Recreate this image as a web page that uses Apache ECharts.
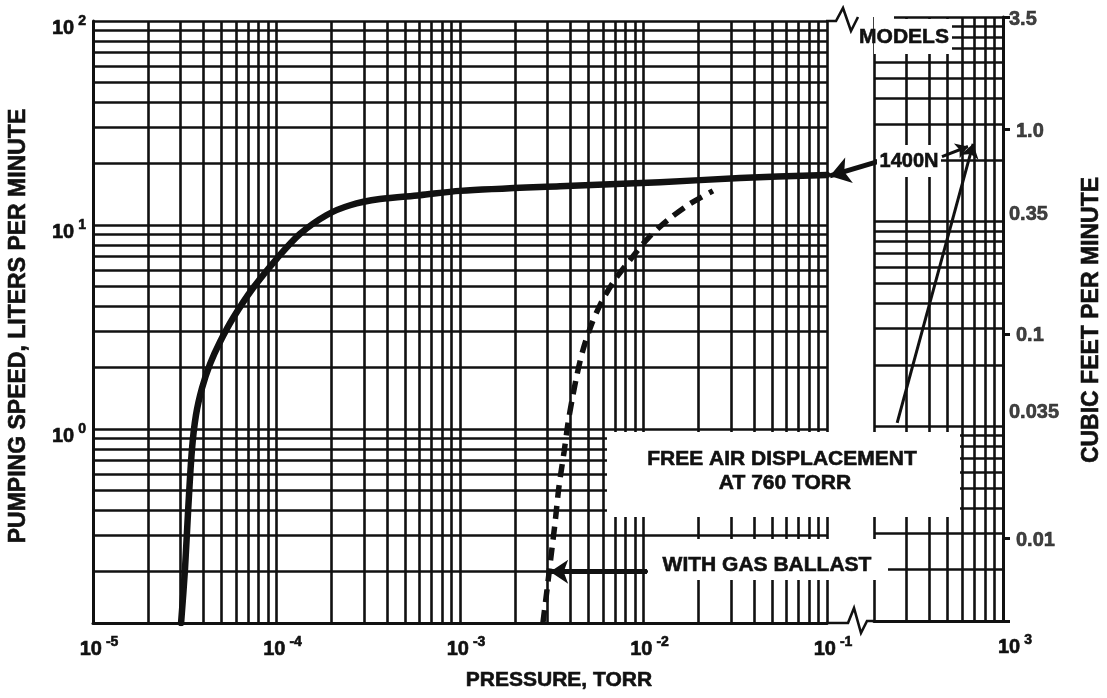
<!DOCTYPE html>
<html><head><meta charset="utf-8">
<script src="https://cdn.jsdelivr.net/npm/echarts@6/dist/echarts.min.js"></script>
<style>html,body{margin:0;padding:0;background:#fff}#c{width:1107px;height:698px}</style>
</head><body><div id="c"></div>
<script>
// ---------------- data ----------------
const pressureRange = [1e-5, 1e-1];        // torr (main panel)
const displacementRange = [200, 1000];     // right panel (760 torr) x-range
const speedRange = [0.112, 100];           // liters per minute
const LPM_PER_CFM = 28.317;

// 1400N pumping speed, no gas ballast (solid)
const solidPressure = [3.02e-5, 3.17e-5, 3.30e-5, 3.46e-5, 3.64e-5, 3.93e-5, 4.34e-5, 4.92e-5, 5.80e-5, 7.45e-5, 1.01e-4, 1.34e-4, 1.88e-4, 2.52e-4, 3.66e-4, 6.05e-4, 1.0e-3, 3.51e-3, 1.23e-2, 3.36e-2, 0.1];
const solidSpeed    = [0.112, 0.204, 0.401, 0.789, 1.17, 1.59, 2.08, 2.67, 3.50, 4.91, 6.89, 9.04, 11.2, 12.5, 13.4, 14.0, 14.7, 15.5, 16.2, 17.0, 17.6];

// with gas ballast (dashed)
const ballastPressure = [2.83e-3, 2.98e-3, 3.13e-3, 3.30e-3, 3.46e-3, 3.69e-3, 3.88e-3, 4.08e-3, 4.35e-3, 4.68e-3, 5.17e-3, 5.87e-3, 6.90e-3, 8.44e-3, 1.06e-2, 1.36e-2, 1.79e-2, 2.39e-2];
const ballastSpeed    = [0.112, 0.163, 0.236, 0.350, 0.520, 0.771, 1.07, 1.39, 1.86, 2.44, 3.20, 4.15, 5.31, 6.73, 8.63, 10.6, 12.7, 14.7];

// free air displacement line (right panel)
const freeAirX = [267, 689];
const freeAirSpeed = [1.04, 24.0];

// annotation anchors (data coordinates)
const modelArrowFrom = [0.187, 20.4], modelArrowTo = [0.1037, 17.4];
const modelLeaderFrom = [467, 20.8], modelLeaderTo = [646, 23.3];
const ballastArrowFrom = [1.045e-2, 0.2], ballastArrowTo = [3.1e-3, 0.2];

// right axis (cubic feet per minute) labels
const rightTickValues = [3.5, 1.0, 0.35, 0.1, 0.035, 0.01];
const rightTickLabels = ['3.5', '1.0', '0.35', '0.1', '0.035', '0.01'];

const texts = {
  xTitle: 'PRESSURE, TORR',
  yTitle: 'PUMPING SPEED, LITERS PER MINUTE',
  y2Title: 'CUBIC FEET PER MINUTE',
  models: 'MODELS',
  model: '1400N',
  freeAir1: 'FREE AIR DISPLACEMENT',
  freeAir2: 'AT 760 TORR',
  ballast: 'WITH GAS BALLAST'
};

// ---------------- helpers ----------------
const FONT = '"Liberation Sans", Arial, Helvetica, sans-serif';
const INK = '#111';
const zip = (a, b) => a.map((v, i) => [v, b[i]]);
function logPaper(lo, hi) {
  const out = [];
  for (let e = Math.floor(Math.log10(lo)); e <= Math.ceil(Math.log10(hi)); e++) {
    for (let m = 1; m <= 9; m++) {
      const v = +(m * Math.pow(10, e)).toPrecision(6);
      if (v >= lo * 0.9999 && v <= hi * 1.0001) out.push(v);
    }
  }
  return out;
}
function supLabel(v) {
  const e = Math.log10(v), r = Math.round(e);
  if (Math.abs(e - r) > 1e-6) return '';
  return '{b|10}{s|' + r + '}';
}
const heavy = {textBorderColor: INK, textBorderWidth: 0.6};
const supRich = {
  b: Object.assign({fontFamily: FONT, fontWeight: 'bold', fontSize: 20, color: INK, lineHeight: 22, verticalAlign: 'bottom'}, heavy),
  s: Object.assign({fontFamily: FONT, fontWeight: 'bold', fontSize: 14, color: INK, lineHeight: 14, padding: [0, 0, 10, 4], verticalAlign: 'bottom'}, heavy)
};
const gridLine = {color: INK, width: 2.6, type: 'solid', opacity: 1};
const axisLine = {show: true, lineStyle: {color: INK, width: 3}};

const xLines0 = logPaper(pressureRange[0], pressureRange[1]);
const xLines1 = logPaper(displacementRange[0], displacementRange[1]);
const yLines = logPaper(speedRange[0], speedRange[1]);

const rightNudge = {0.35: -8, 0.035: -15};
const isDecade = v => Math.abs(Math.log10(v) - Math.round(Math.log10(v))) < 1e-6;

const chart = echarts.init(document.getElementById('c'), null, {renderer: 'canvas'});

const bold = sz => 'bold ' + sz + 'px ' + FONT;
function txt(text, x, y, size, opts) {
  return Object.assign({type: 'text', x: x, y: y, z: 101,
    style: {text: text, font: bold(size), fill: INK, stroke: INK, lineWidth: 0.6,
            align: 'center', verticalAlign: 'middle', textAlign: 'center', textVerticalAlign: 'middle'}}, opts || {});
}
function box(x, y, w, h) {
  return {type: 'rect', z: 100, shape: {x: x, y: y, width: w, height: h}, style: {fill: '#fff'}};
}
function gridMarks(xi, yi, xs, ys) {
  return {type: 'line', xAxisIndex: xi, yAxisIndex: yi, data: [], silent: true, z: 1,
    markLine: {silent: true, precision: 12, symbol: ['none', 'none'], label: {show: false},
      lineStyle: gridLine, emphasis: {disabled: true},
      data: xs.map(v => ({xAxis: v})).concat(ys.map(v => ({yAxis: v})))}};
}
function arrow(xi, yi, from, to, width, size) {
  return {type: 'lines', coordinateSystem: 'cartesian2d', xAxisIndex: xi, yAxisIndex: yi, z: 6, clip: false,
    symbol: ['none', 'arrow'], symbolSize: size, silent: true,
    lineStyle: {color: INK, width: width, opacity: 1},
    data: [{coords: [from, to]}]};
}

const option = {
  animation: false,
  backgroundColor: '#fff',
  grid: [
    {left: 93, top: 21, width: 734, height: 602},
    {left: 874, top: 17, width: 129, height: 604}
  ],
  xAxis: [
    {type: 'log', logBase: 10, gridIndex: 0, min: pressureRange[0], max: pressureRange[1],
     axisLine: axisLine, axisTick: {show: false}, splitLine: {show: false},
     axisLabel: {margin: 14, padding: [0, 0, 0, 12], formatter: supLabel, rich: supRich}},
    {type: 'log', logBase: 10, gridIndex: 1, min: displacementRange[0], max: displacementRange[1],
     axisLine: axisLine, axisTick: {show: false}, splitLine: {show: false},
     axisLabel: {margin: 14, padding: [0, 0, 0, 24], formatter: supLabel, rich: supRich}}
  ],
  yAxis: [
    {type: 'log', logBase: 10, gridIndex: 0, min: speedRange[0], max: speedRange[1],
     axisLine: axisLine, axisTick: {show: false}, splitLine: {show: false},
     axisLabel: {margin: 7, padding: [12, 0, 0, 0], formatter: supLabel, rich: supRich}},
    {type: 'log', logBase: 10, gridIndex: 1, min: speedRange[0], max: speedRange[1], show: false,
     splitLine: {show: false}},
    {type: 'log', logBase: 10, gridIndex: 1, position: 'right',
     min: speedRange[0] / LPM_PER_CFM, max: speedRange[1] / LPM_PER_CFM,
     axisLine: axisLine, axisTick: {show: true, length: 7, lineStyle: {color: INK, width: 3}},
     axisLabel: {show: false}, splitLine: {show: false}}
  ],
  series: [
    gridMarks(0, 0, xLines0, yLines),
    gridMarks(1, 1, xLines1, yLines),
    {type: 'line', name: '1400N', xAxisIndex: 0, yAxisIndex: 0, data: zip(solidPressure, solidSpeed),
     symbol: 'none', smooth: 0.3, z: 5, silent: true, lineStyle: {color: INK, width: 6.5, cap: 'round', join: 'round'}},
    {type: 'line', name: 'With gas ballast', xAxisIndex: 0, yAxisIndex: 0, data: zip(ballastPressure, ballastSpeed),
     symbol: 'none', smooth: 0.3, z: 5, silent: true, lineStyle: {color: INK, width: 5.5, type: [13, 8]}},
    {type: 'lines', coordinateSystem: 'cartesian2d', xAxisIndex: 1, yAxisIndex: 1, z: 6, clip: false,
     symbol: ['none', 'arrow'], symbolSize: 14, silent: true,
     lineStyle: {color: INK, width: 3, opacity: 1},
     data: [{coords: zip(freeAirX, freeAirSpeed)}]},
    arrow(1, 1, modelLeaderFrom, modelLeaderTo, 3, 12),
    arrow(0, 0, modelArrowFrom, modelArrowTo, 5, 20),
    arrow(0, 0, ballastArrowFrom, ballastArrowTo, 5, 18),
    {type: 'scatter', xAxisIndex: 1, yAxisIndex: 2, symbolSize: 0, silent: true, clip: false, z: 7,
     data: rightTickValues.map((v, i) => ({
       value: [displacementRange[1], v],
       label: Object.assign({show: true, position: 'right', distance: isDecade(v) ? 13 : 6,
               offset: [0, rightNudge[v] || 2], formatter: rightTickLabels[i],
               fontFamily: FONT, fontWeight: 'bold', fontSize: 20, color: INK}, heavy)
     }))}
  ],
  graphic: [
    // white label backgrounds
    box(607, 432, 353, 85),
    box(648, 539, 240, 41),
    box(874, 14, 20, 40),
    box(894, 19, 58, 35),
    box(877, 145, 64, 32),
    // break marks
    {type: 'polyline', z: 100, shape: {points: [[826, 21], [836, 21], [843, 8], [851, 31], [858, 17]]},
     style: {stroke: INK, lineWidth: 2.6, fill: null}},
    {type: 'polyline', z: 100, shape: {points: [[826, 623], [848, 623], [854, 608], [861, 633], [867, 621], [875, 621]]},
     style: {stroke: INK, lineWidth: 2.6, fill: null}},
    // texts
    txt(texts.freeAir1, 782, 459, 21),
    txt(texts.freeAir2, 785, 483, 21),
    txt(texts.ballast, 767, 565, 21),
    txt(texts.models, 904, 37, 21),
    txt(texts.model, 909, 161, 20),
    txt(texts.xTitle, 559, 680, 21),
    txt(texts.yTitle, 19, 326, 23, {rotation: Math.PI / 2}),
    txt(texts.y2Title, 1092, 320, 23, {rotation: Math.PI / 2})
  ]
};
chart.setOption(option);
</script>
</body></html>
